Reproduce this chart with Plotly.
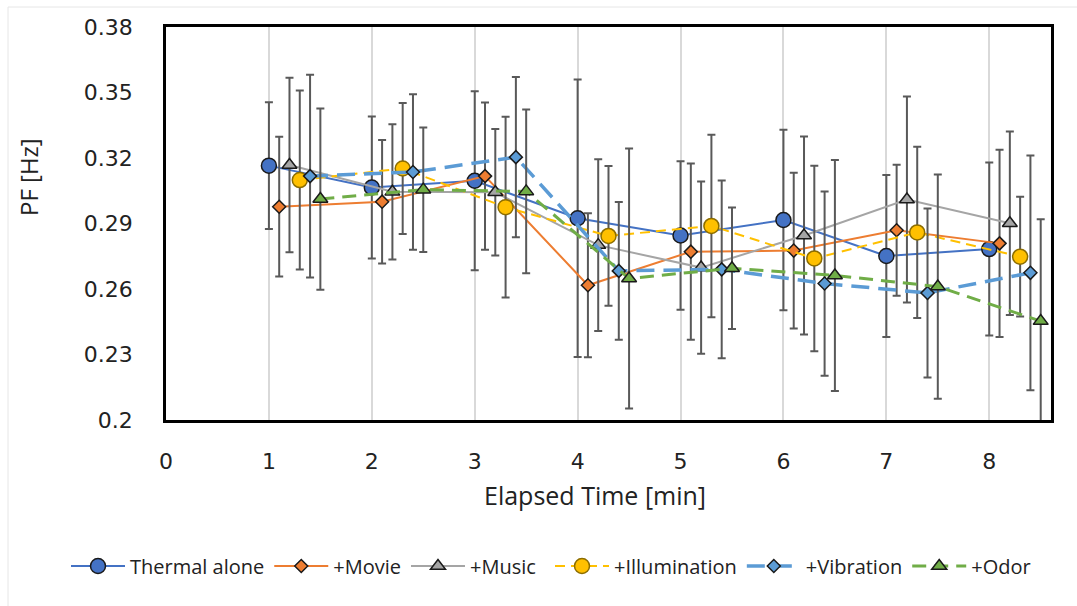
import plotly.graph_objects as go

# ---- data ----
elapsed_min = [1, 2, 3, 4, 5, 6, 7, 8]
series_names = ["Thermal alone", "+Movie", "+Music", "+Illumination", "+Vibration", "+Odor"]

thermal_alone = [0.3165, 0.3065, 0.3096, 0.2924, 0.2845, 0.2916, 0.2751, 0.2783]
thermal_alone_sd = [0.029, 0.0325, 0.041, 0.0635, 0.034, 0.0413, 0.0371, 0.0396]

movie = [0.2977, 0.3000, 0.3117, 0.2617, 0.2771, 0.2776, 0.2869, 0.2809]
movie_sd = [0.032, 0.0283, 0.0337, 0.033, 0.0404, 0.0357, 0.030, 0.0429]

music = [0.3168, 0.3045, 0.3043, 0.2801, 0.2698, 0.2845, 0.3010, 0.2901]
music_sd = [0.040, 0.031, 0.029, 0.0393, 0.0394, 0.0453, 0.0472, 0.042]

illumination = [0.3099, 0.3152, 0.2975, 0.2843, 0.2889, 0.2740, 0.2859, 0.2748]
illumination_sd = [0.041, 0.030, 0.0414, 0.032, 0.0418, 0.0425, 0.0392, 0.0274]

vibration = [0.3117, 0.3136, 0.3204, 0.2683, 0.2690, 0.2625, 0.2582, 0.2674]
vibration_sd = [0.0464, 0.0356, 0.0367, 0.0316, 0.0407, 0.0422, 0.0387, 0.0538]

odor = [0.3012, 0.3055, 0.3047, 0.2648, 0.2695, 0.2662, 0.2611, 0.2453]
odor_sd = [0.0415, 0.0285, 0.0375, 0.0595, 0.0278, 0.0529, 0.0514, 0.0466]

y_ticks = [0.2, 0.23, 0.26, 0.29, 0.32, 0.35, 0.38]
y_tick_text = ["0.2", "0.23", "0.26", "0.29", "0.32", "0.35", "0.38"]
x_ticks = [0, 1, 2, 3, 4, 5, 6, 7, 8]

# ---- styles ----
values = [thermal_alone, movie, music, illumination, vibration, odor]
sds = [thermal_alone_sd, movie_sd, music_sd, illumination_sd, vibration_sd, odor_sd]
styles = [
    dict(color="#4472C4", width=2, dash="solid", symbol="circle", msize=15, mline="#1A1A1A"),
    dict(color="#ED7D31", width=2, dash="solid", symbol="diamond", msize=10, mline="#1A1A1A"),
    dict(color="#A5A5A5", width=2, dash="solid", symbol="triangle-up", msize=13, mline="#1A1A1A"),
    dict(color="#FFC000", width=2, dash="10px,6px", symbol="circle", msize=15, mline="#8C6D00"),
    dict(color="#5B9BD5", width=3.5, dash="18px,9px", symbol="diamond", msize=10, mline="#1A1A1A"),
    dict(color="#70AD47", width=3, dash="14px,8px", symbol="triangle-up", msize=13, mline="#1A1A1A"),
]
legend_ids = ["legend", "legend", "legend", "legend2", "legend2", "legend2"]
offset_step = 0.1

fig = go.Figure()
for i, (name, vals, sd, st) in enumerate(zip(series_names, values, sds, styles)):
    xs = [t + i * offset_step for t in elapsed_min]
    fig.add_trace(go.Scatter(
        x=xs, y=vals, name=name, mode="lines+markers", legend=legend_ids[i],
        line=dict(color=st["color"], width=st["width"], dash=st["dash"]),
        marker=dict(symbol=st["symbol"], size=st["msize"], color=st["color"],
                    line=dict(color=st["mline"], width=1.5)),
        error_y=dict(type="data", array=sd, visible=True, color="#595959",
                     thickness=2, width=4),
    ))

W, H = 1077, 606
L, R, T, B = 166, 26, 27, 186
pw, ph = W - L - R, H - T - B

def px_x(px):
    return (px - L) / pw

def px_y(py):
    return (H - B - py) / ph

tick_font = dict(size=22, family="DejaVu Sans", color="#222222")
legend_common = dict(orientation="h", xref="container", yref="container",
                     xanchor="left", y=(H - 566) / H, yanchor="middle",
                     font=dict(size=20, family="Open Sans", color="#222222"),
                     itemsizing="trace", tracegroupgap=0, itemwidth=54,
                     bgcolor="rgba(0,0,0,0)")

fig.update_layout(
    width=W, height=H,
    margin=dict(l=L, r=R, t=T, b=B),
    paper_bgcolor="white", plot_bgcolor="white",
    font=dict(family="Open Sans", color="#222222"),
    showlegend=True,
    legend=dict(x=66 / W, **legend_common),
    legend2=dict(x=550 / W, **legend_common),
    xaxis=dict(range=[0, 8.6], tickvals=x_ticks, showgrid=True, gridcolor="#D9D9D9",
               gridwidth=2, showline=True, linecolor="black", linewidth=2.5, mirror=True,
               zeroline=False, ticks="", ticklabelstandoff=20,
               tickfont=tick_font),
    yaxis=dict(range=[0.2, 0.38], tickvals=y_ticks, ticktext=y_tick_text, showgrid=False,
               showline=True, linecolor="black", linewidth=2.5, mirror=True,
               zeroline=False, ticks="", ticklabelstandoff=26,
               tickfont=tick_font),
    annotations=[
        dict(text="Elapsed Time [min]", xref="paper", yref="paper", x=px_x(595), y=px_y(495),
             showarrow=False, xanchor="center", yanchor="middle",
             font=dict(size=25, family="Open Sans", color="#222222")),
        dict(text="PF [Hz]", xref="paper", yref="paper", x=px_x(28), y=px_y(177),
             showarrow=False, xanchor="center", yanchor="middle", textangle=-90,
             font=dict(size=24, family="Open Sans", color="#222222")),
    ],
    shapes=[
        dict(type="rect", xref="paper", yref="paper", x0=px_x(8), x1=px_x(1090),
             y0=px_y(620), y1=px_y(7), line=dict(color="#E6E6E6", width=1), layer="below"),
    ],
)

fig.write_html("out.html")
